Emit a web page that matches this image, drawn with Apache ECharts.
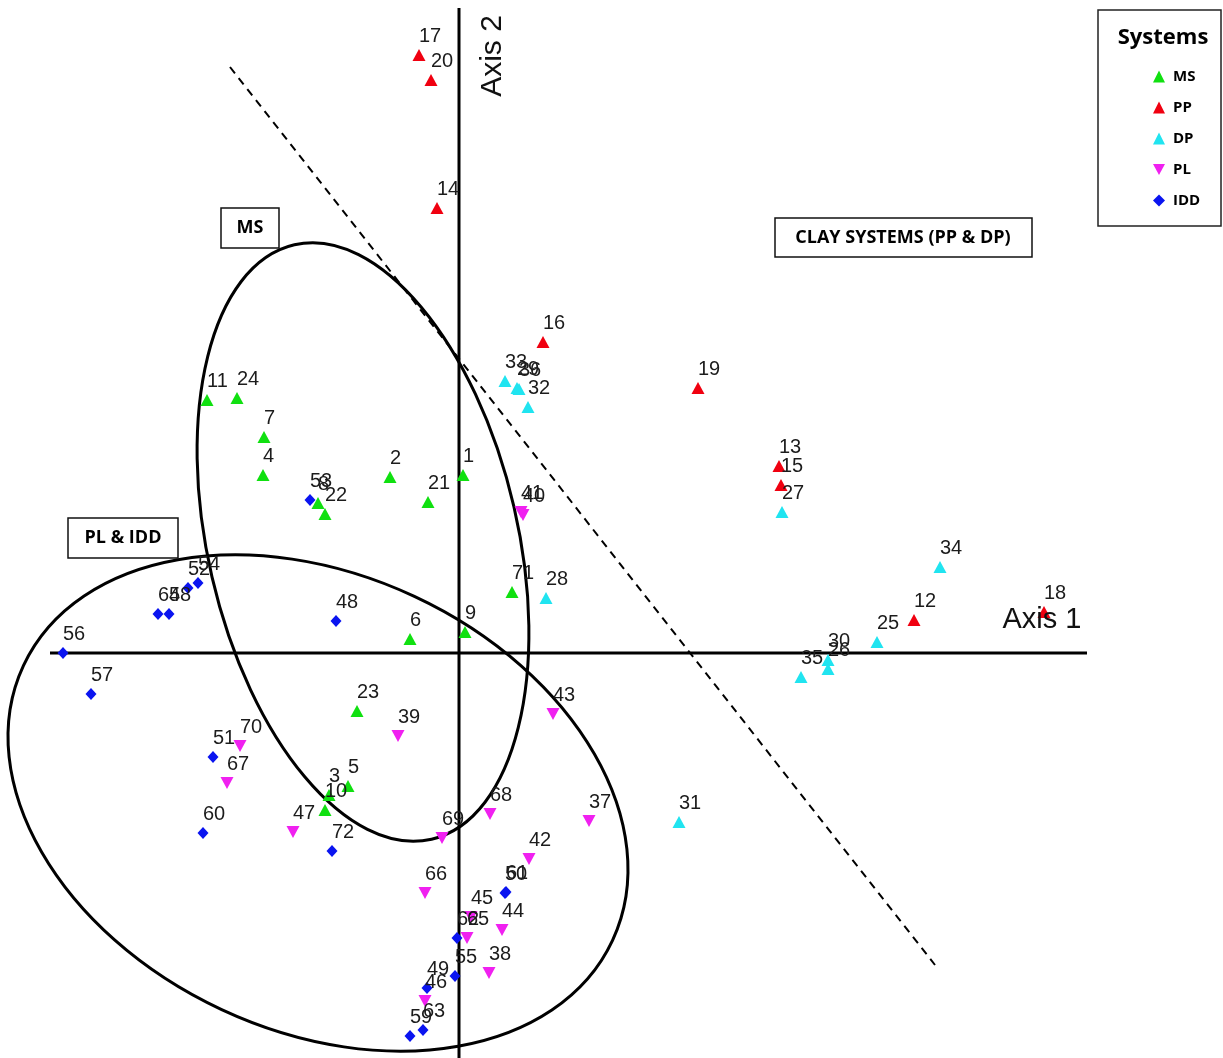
<!DOCTYPE html>
<html><head><meta charset="utf-8">
<script src="https://cdn.jsdelivr.net/npm/echarts@6/dist/echarts.min.js"></script>
<style>html,body{margin:0;padding:0;background:#fff}#c{width:1223px;height:1058px}</style>
</head><body><div id="c"></div>
<script>
// [axis1, axis2, sample id]
const msPoints = [[-2.52,2.53,'11'],[-2.22,2.55,'24'],[-1.95,2.16,'7'],[-1.96,1.78,'4'],[-0.69,1.76,'2'],[-0.31,1.51,'21'],[0.04,1.78,'1'],[-1.41,1.50,'8'],[-1.34,1.39,'22'],[0.53,0.61,'71'],[-0.49,0.14,'6'],[0.06,0.21,'9'],[-1.02,-0.58,'23'],[-1.30,-1.42,'3'],[-1.11,-1.33,'5'],[-1.34,-1.57,'10']];
const ppPoints = [[-0.40,5.98,'17'],[-0.28,5.73,'20'],[-0.22,4.45,'14'],[0.84,3.11,'16'],[2.39,2.65,'19'],[3.20,1.87,'13'],[3.22,1.68,'15'],[4.55,0.33,'12'],[5.85,0.41,'18']];
const dpPoints = [[0.46,2.72,'33'],[0.58,2.65,'29'],[0.60,2.64,'36'],[0.69,2.46,'32'],[3.23,1.41,'27'],[0.87,0.55,'28'],[4.81,0.86,'34'],[4.18,0.11,'25'],[3.69,-0.07,'30'],[3.69,-0.16,'26'],[3.42,-0.24,'35'],[2.20,-1.69,'31']];
const plPoints = [[0.62,1.41,'41'],[0.64,1.38,'40'],[0.94,-0.61,'43'],[-0.61,-0.83,'39'],[-2.19,-0.93,'70'],[-2.32,-1.30,'67'],[-1.66,-1.79,'47'],[0.31,-1.61,'68'],[1.30,-1.68,'37'],[-0.17,-1.85,'69'],[0.70,-2.06,'42'],[-0.34,-2.40,'66'],[0.12,-2.64,'45'],[0.08,-2.85,'65'],[0.43,-2.77,'44'],[0.30,-3.20,'38'],[-0.34,-3.48,'46']];
const iddPoints = [[-1.23,0.32,'48'],[-1.49,1.53,'53'],[-3.01,0.39,'64'],[-2.90,0.39,'58'],[-2.71,0.65,'52'],[-2.61,0.70,'54'],[-3.96,0.00,'56'],[-3.68,-0.41,'57'],[-2.46,-1.04,'51'],[-2.56,-1.80,'60'],[-1.27,-1.98,'72'],[0.46,-2.40,'50'],[0.47,-2.39,'61'],[-0.02,-2.85,'62'],[-0.04,-3.23,'55'],[-0.32,-3.35,'49'],[-0.36,-3.77,'63'],[-0.49,-3.83,'59']];
// axis lines and the separating dashed line, in plot units
const axis1Line = [[-4.09,0],[6.28,0]];
const axis2Line = [[0,6.45],[0,-4.10]];
const dashedLine = [[-2.29,5.86],[4.76,-3.12]];
// group ellipses: [centre x, centre y, radius x, radius y, rotation deg]
const groupEllipses = [[-0.96,1.11,1.55,3.05,13],[-1.41,-1.50,3.25,2.28,-25]];

const labelFont = "'Liberation Sans', Arial, sans-serif";
const boxFont = "'Liberation Sans Narrow', 'Open Sans', sans-serif";

function scatter(name, pts, color, symbol, size, rotate) {
  return {
    name, type: 'scatter', data: pts.map(p => ({value: [p[0], p[1]], name: p[2]})),
    symbol, symbolSize: size, symbolRotate: rotate || 0,
    itemStyle: {color, opacity: 1},
    label: {show: true, formatter: p => p.name, position: 'top', distance: 3, align: 'left', offset: [0, 0],
      fontFamily: labelFont, fontSize: 20, color: '#1c1c1c'},
    labelLayout: {hideOverlap: false},
    emphasis: {disabled: true}, z: 5
  };
}

const chart = echarts.init(document.getElementById('c'));
chart.setOption({
  animation: false,
  backgroundColor: '#fff',
  grid: {left: 0, right: 0, top: 0, bottom: 0},
  xAxis: {type: 'value', min: -4.59, max: 7.64, show: false},
  yAxis: {type: 'value', min: -4.05, max: 6.53, show: false},
  legend: {
    data: [{name: 'MS'}, {name: 'PP'}, {name: 'DP'}, {name: 'PL', icon: 'path://M0,0 L10,0 L5,9 Z'}, {name: 'IDD'}],
    orient: 'vertical', left: 1148, top: 64,
    itemWidth: 12, itemHeight: 12, itemGap: 16, selectedMode: false,
    textStyle: {fontFamily: boxFont, fontWeight: 'bold', fontSize: 15, color: '#000', padding: [0,0,0,3]}
  },
  graphic: [
    {type: 'rect', shape: {x: 1098, y: 10, width: 123, height: 216}, style: {fill: 'none', stroke: '#222', lineWidth: 1.5}},
    {type: 'text', x: 1163, y: 38, style: {text: 'Systems', fontFamily: boxFont, fontWeight: 'bold', fontSize: 22, fill: '#000', textAlign: 'center', textVerticalAlign: 'middle'}},
    {type: 'rect', shape: {x: 221, y: 208, width: 58, height: 40}, style: {fill: '#fff', stroke: '#111', lineWidth: 1.5}, z: 10},
    {type: 'text', x: 250, y: 228, style: {text: 'MS', fontFamily: boxFont, fontWeight: 'bold', fontSize: 18, fill: '#000', textAlign: 'center', textVerticalAlign: 'middle'}, z: 11},
    {type: 'rect', shape: {x: 68, y: 518, width: 110, height: 40}, style: {fill: '#fff', stroke: '#111', lineWidth: 1.5}, z: 10},
    {type: 'text', x: 123, y: 538, style: {text: 'PL & IDD', fontFamily: boxFont, fontWeight: 'bold', fontSize: 18, fill: '#000', textAlign: 'center', textVerticalAlign: 'middle'}, z: 11},
    {type: 'rect', shape: {x: 775, y: 218, width: 257, height: 39}, style: {fill: '#fff', stroke: '#111', lineWidth: 1.5}, z: 10},
    {type: 'text', x: 903, y: 238, style: {text: 'CLAY SYSTEMS (PP & DP)', fontFamily: boxFont, fontWeight: 'bold', fontSize: 18, fill: '#000', textAlign: 'center', textVerticalAlign: 'middle'}, z: 11},
    {type: 'text', x: 493, y: 56, rotation: Math.PI / 2, style: {text: 'Axis 2', fontFamily: labelFont, fontSize: 30, fill: '#111', textAlign: 'center', textVerticalAlign: 'middle'}, z: 11},
    {type: 'text', x: 1042, y: 620, style: {text: 'Axis 1', fontFamily: labelFont, fontSize: 29, fill: '#111', textAlign: 'center', textVerticalAlign: 'middle'}, z: 11}
  ],
  series: [
    {type: 'line', data: axis1Line, symbol: 'none', lineStyle: {color: '#000', width: 3}, silent: true, z: 1},
    {type: 'line', data: axis2Line, symbol: 'none', lineStyle: {color: '#000', width: 3}, silent: true, z: 1},
    {type: 'line', data: dashedLine, symbol: 'none', lineStyle: {color: '#000', width: 2, type: [8, 6]}, silent: true, z: 1},
    {type: 'custom', data: groupEllipses, silent: true, clip: false, z: 2,
      renderItem: (params, api) => {
        const c = api.coord([api.value(0), api.value(1)]);
        const s = api.size([api.value(2), api.value(3)]);
        return {type: 'ellipse', x: c[0], y: c[1], rotation: api.value(4) * Math.PI / 180,
          shape: {cx: 0, cy: 0, rx: s[0], ry: s[1]}, style: {fill: 'none', stroke: '#000', lineWidth: 3}};
      }},
    scatter('IDD', iddPoints, '#0a14f0', 'diamond', [11, 12]),
    scatter('MS', msPoints, '#10e010', 'triangle', [13, 12]),
    scatter('PP', ppPoints, '#f00010', 'triangle', [13, 12]),
    scatter('DP', dpPoints, '#20e4f0', 'triangle', [13, 12]),
    scatter('PL', plPoints, '#f020f0', 'triangle', [13, 12], 180)
  ]
});
</script></body></html>
